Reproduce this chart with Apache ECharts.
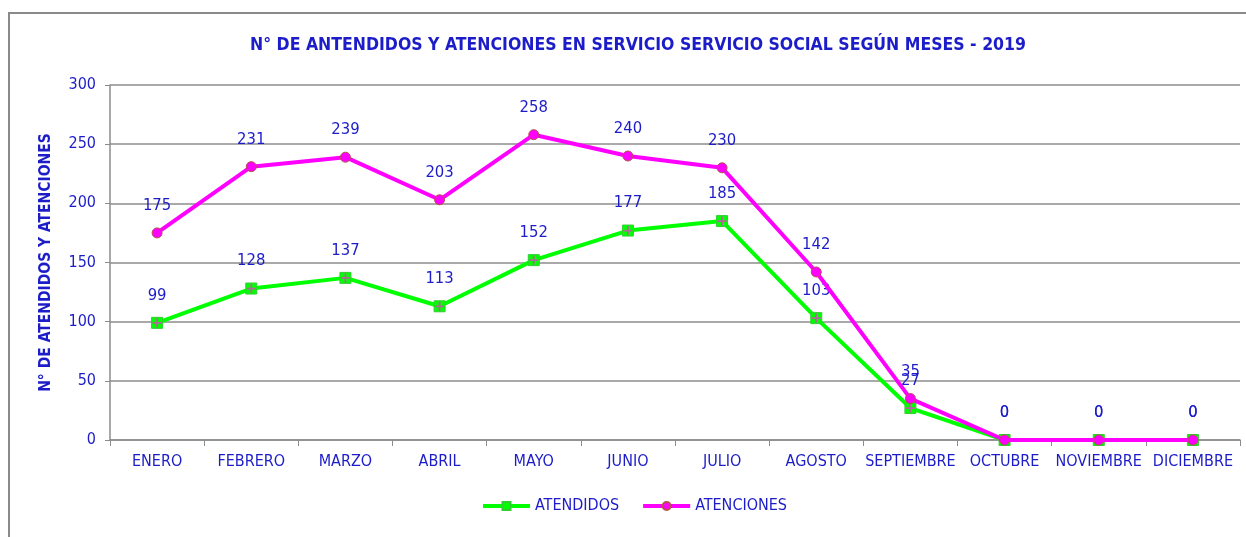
<!DOCTYPE html>
<html>
<head>
<meta charset="utf-8">
<script src="https://cdn.jsdelivr.net/npm/echarts@6/dist/echarts.min.js"></script>
<style>
  html, body { margin: 0; padding: 0; background: #fff; }
  .frame { position: absolute; left: 8px; top: 12px; width: 1246px; height: 537px; border-top: 2px solid #8a8a8a; border-left: 2px solid #8a8a8a; box-sizing: border-box; }
  #chart { position: absolute; left: 0; top: 0; width: 1246px; height: 537px; }
</style>
</head>
<body>
<div class="frame"></div>
<div id="chart"></div>
<script>
// datos del gráfico
const meses = ["ENERO", "FEBRERO", "MARZO", "ABRIL", "MAYO", "JUNIO", "JULIO", "AGOSTO", "SEPTIEMBRE", "OCTUBRE", "NOVIEMBRE", "DICIEMBRE"];
const atendidos = [99, 128, 137, 113, 152, 177, 185, 103, 27, 0, 0, 0];
const atenciones = [175, 231, 239, 203, 258, 240, 230, 142, 35, 0, 0, 0];

const azul = "#1c1cc8";
const fuente = "'DejaVu Sans Condensed', 'Liberation Sans', sans-serif";

// cruz magenta dentro del marcador cuadrado
const cruz = "path://M4,0H6V4H10V6H6V10H4V6H0V4H4Z";

const chart = echarts.init(document.getElementById("chart"), null, { renderer: "canvas" });

chart.setOption({
  animation: false,
  title: {
    text: "N° DE ANTENDIDOS Y ATENCIONES EN SERVICIO SERVICIO SOCIAL SEGÚN MESES - 2019",
    left: 633,
    textAlign: "center",
    top: 31,
    textStyle: { color: azul, fontSize: 17.5, fontWeight: "bold", fontFamily: fuente }
  },
  grid: { left: 110, right: 6, top: 85, bottom: 97, containLabel: false },
  legend: {
    bottom: 18,
    left: 476,
    itemWidth: 47,
    itemHeight: 10,
    itemGap: 22,
    textStyle: { color: azul, fontSize: 16, fontFamily: fuente },
    lineStyle: { width: 4 },
    data: ["ATENDIDOS", "ATENCIONES"]
  },
  xAxis: {
    type: "category",
    data: meses,
    boundaryGap: true,
    axisLine: { lineStyle: { color: "#8c8c8c", width: 1.5 } },
    axisTick: { show: true, alignWithLabel: false, length: 6, lineStyle: { color: "#8c8c8c" } },
    axisLabel: { color: azul, fontSize: 16, margin: 14, interval: 0, fontFamily: fuente }
  },
  yAxis: {
    type: "value",
    min: 0,
    max: 300,
    interval: 50,
    name: "N° DE ATENDIDOS Y ATENCIONES",
    nameLocation: "middle",
    nameGap: 56,
    nameTextStyle: { color: azul, fontSize: 15.5, fontWeight: "bold", fontFamily: fuente },
    axisLine: { show: true, lineStyle: { color: "#8c8c8c", width: 1.5 } },
    axisTick: { show: true, length: 5, lineStyle: { color: "#8c8c8c" } },
    axisLabel: { color: azul, fontSize: 16, margin: 14, fontFamily: fuente },
    splitLine: { lineStyle: { color: "#8c8c8c", width: 1.5 } }
  },
  series: [
    {
      name: "ATENDIDOS",
      type: "line",
      data: atendidos,
      symbol: "rect",
      symbolSize: 11,
      lineStyle: { color: "#00ff00", width: 4 },
      itemStyle: { color: "#00ff00", borderColor: "#33cc33", borderWidth: 1 },
      label: {
        show: true,
        position: "top",
        distance: 13,
        color: azul,
        fontSize: 16.5,
        fontFamily: fuente
      },
      z: 2
    },
    {
      name: "ATENDIDOS_cruz",
      type: "scatter",
      data: atendidos,
      symbol: cruz,
      symbolSize: 9,
      itemStyle: { color: "#e040c0" },
      silent: true,
      z: 2.5
    },
    {
      name: "ATENCIONES",
      type: "line",
      data: atenciones,
      symbol: "circle",
      symbolSize: 10,
      lineStyle: { color: "#ff00ff", width: 4 },
      itemStyle: { color: "#ff00ff", borderColor: "#b5504d", borderWidth: 1 },
      label: {
        show: true,
        position: "top",
        distance: 13,
        color: azul,
        fontSize: 16.5,
        fontFamily: fuente
      },
      z: 3
    }
  ]
});
</script>
</body>
</html>
